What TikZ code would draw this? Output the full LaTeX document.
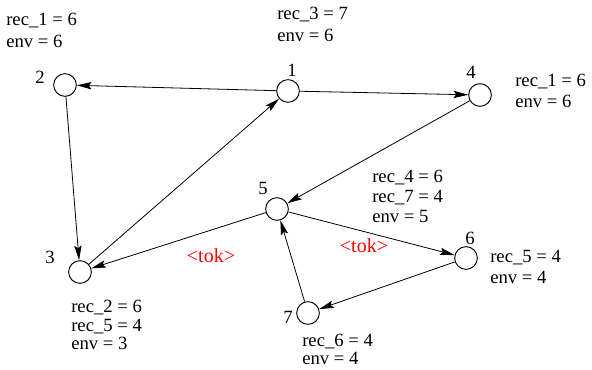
\documentclass[tikz,border=0pt]{standalone}
\usepackage{fontspec}
\setmainfont{Liberation Serif}
\usepackage{xcolor}
\usetikzlibrary{arrows.meta,positioning}

\begin{document}
\begin{tikzpicture}[
      x=0.75pt, y=-0.75pt,
      proc/.style={circle, draw=black, line width=0.7pt, minimum size=17pt, inner sep=0pt},
      num/.style={font=\fontsize{14pt}{16pt}\selectfont, inner sep=0pt},
      info/.style={font=\fontsize{14pt}{#1}\selectfont, align=left, inner sep=0pt, anchor=north west},
      info/.default=15pt,
      tok/.style={font=\fontsize{15pt}{17pt}\selectfont, text=red, inner sep=0pt},
      arrow/.style={-{Stealth[length=11pt,width=5.5pt,inset=2pt]}, line width=0.6pt}
  ]
  \useasboundingbox (0,0) rectangle (592,370);

  % Processes
  \node (n1) [proc] at (288,91) {};
  \node (n2) [proc] at (65,85) {};
  \node (n3) [proc] at (80,272) {};
  \node (n4) [proc] at (480,95) {};
  \node (n5) [proc] at (277,209) {};
  \node (n6) [proc] at (466,258) {};
  \node (n7) [proc] at (308,313) {};

  % Process numbers
  \node (l1) [num] at (292,70) {1};
  \node (l2) [num] at (40,77) {2};
  \node (l3) [num] at (50,257) {3};
  \node (l4) [num] at (471,72) {4};
  \node (l5) [num] at (263,188) {5};
  \node (l6) [num] at (470,238) {6};
  \node (l7) [num] at (288,317) {7};

  % Messages
  \draw [arrow] (n1) -- (n2);
  \draw [arrow] (n1) -- (n4);
  \draw [arrow] (n2) -- (n3);
  \draw [arrow] (n3) -- (n1);
  \draw [arrow] (n4) -- (n5);
  \draw [arrow] (n5) -- (n3);
  \draw [arrow] (n5) -- (n6);
  \draw [arrow] (n6) -- (n7);
  \draw [arrow] (n7) -- (n5);

  % Tokens
  \node (tokA) [tok] at (211,256) {\textless{}tok\textgreater};
  \node (tokB) [tok] at (364,246) {\textless{}tok\textgreater};

  % Local state of each process
  \node (s2) [info=16.5pt] at (6,13) {rec\_1 = 6\\env = 6};
  \node (s1) [info=16.5pt] at (277,7) {rec\_3 = 7\\env = 6};
  \node (s4) [info=16pt] at (515,74) {rec\_1 = 6\\env = 6};
  \node (s5) [info=15pt] at (372,170) {rec\_4 = 6\\rec\_7 = 4\\env = 5};
  \node (s6) [info=16pt] at (490,250) {rec\_5 = 4\\env = 4};
  \node (s3) [info=13.9pt] at (71,300) {rec\_2 = 6\\rec\_5 = 4\\env = 3};
  \node (s7) [info=13.5pt] at (302,334) {rec\_6 = 4\\env = 4};

\end{tikzpicture}
\end{document}
